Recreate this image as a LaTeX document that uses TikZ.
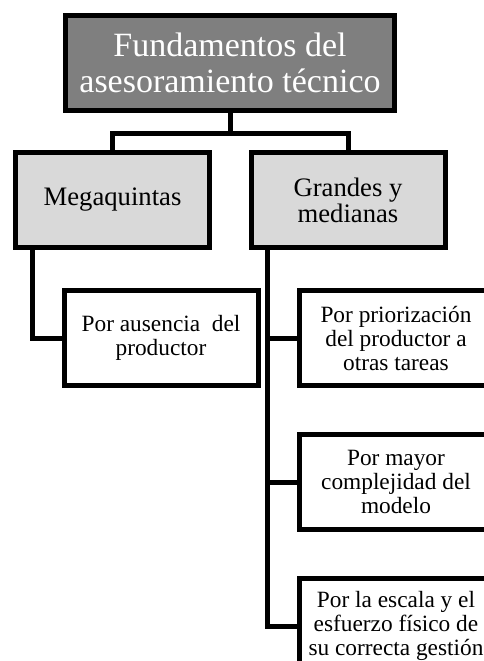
\documentclass[tikz,border=0pt]{standalone}
\usepackage{fontspec}
\setmainfont{Liberation Serif}
\usetikzlibrary{positioning,calc}
\definecolor{headgray}{RGB}{127,127,127}
\definecolor{boxgray}{RGB}{217,217,217}
\pgfmathsetmacro{\boxlw}{3.75}
\tikzset{
  box/.style={draw, line width=\boxlw pt, align=center, inner sep=0pt,
    minimum height=71.25pt},
  headbox/.style={box, fill=headgray, text=white, minimum width=246.75pt,
    font=\fontsize{25.5}{27}\selectfont},
  midbox/.style={box, fill=boxgray, minimum width=145.5pt,
    font=\fontsize{20}{19.5}\selectfont},
  subbox/.style={box, fill=white, minimum width=145.5pt,
    font=\fontsize{17.5}{18}\selectfont},
  conn/.style={line width=\boxlw pt, line join=miter},
}

\begin{document}
\begin{tikzpicture}[x=0.75pt, y=-0.75pt]
    \useasboundingbox (0,0) rectangle (484,661);
    \clip (0,0) rectangle (484,661);
    % define boxes
    % head
    \node[headbox] (head) at (230,63) {Fundamentos del\\asesoramiento técnico};
    % first level
    \node[midbox] (mega) at (112.5,200) {Megaquintas};
    \node[midbox] (grandes) at (348,200) {Grandes y\\medianas};
    % second level
    \node[subbox] (ausencia) at (161,338) {Por ausencia\ \ del\\productor};
    \node[subbox] (prior) at (396,338) {Por priorización\\del productor a\\otras tareas};
    \node[subbox, below=33pt of prior] (mayor) {Por mayor\\complejidad del\\modelo};
    \node[subbox, below=33pt of mayor] (escala) {Por la escala y el\\esfuerzo físico de\\su correcta gestión};
    % helper points
    \coordinate (split) at ($(head.south)+(0,20)$);
    \coordinate (megaspine) at ([xshift=14.5pt]mega.south west);
    \coordinate (grandspine) at ([xshift=14pt]grandes.south west);
    % draw connectors
    \draw[conn] (head.south) -- (split);
    \draw[conn] (mega.north) |- (split) -| (grandes.north);
    \draw[conn] (megaspine) |- (ausencia.west);
    \draw[conn] (grandspine) |- (escala.west);
    \draw[conn] (prior.west) -- (prior.west -| grandspine);
    \draw[conn] (mayor.west) -- (mayor.west -| grandspine);
\end{tikzpicture}
\end{document}
